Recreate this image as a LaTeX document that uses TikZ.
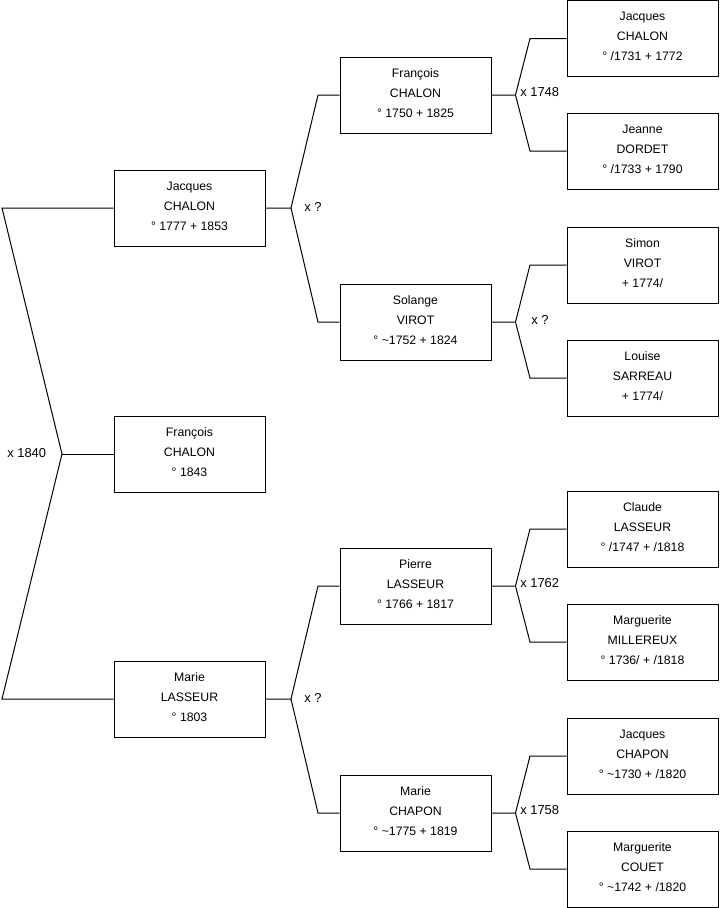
\documentclass[tikz,border=0pt]{standalone}
\usepackage{fontspec}
\setmainfont{Liberation Sans}
\newcommand\pers[3]{%
  \node[person] (#1) at (#2) {};
  \node[ptext] (#1-t) at ([yshift=1.5pt]#1.center) {#3};}
\begin{document}
\begin{tikzpicture}[x=0.75pt,y=-0.75pt,
  person/.style={draw=black,line width=0.75pt,fill=white,minimum width=113.25pt,minimum height=57pt,inner sep=0pt},
  ptext/.style={inner sep=0pt,align=center,font=\fontsize{9.2}{15}\selectfont},
  link/.style={draw=black,line width=0.75pt},
  marr/.style={font=\fontsize{9.7}{11}\selectfont,inner sep=0pt}]
\useasboundingbox (0,0) rectangle (719,908);
% column 1
\pers{p1}{189.5,208}{Jacques\\CHALON\\° 1777 + 1853}
\pers{p0}{189.5,454}{François\\CHALON\\° 1843}
\pers{p2}{189.5,699}{Marie\\LASSEUR\\° 1803}
% column 2
\pers{p4}{415.5,95}{François\\CHALON\\° 1750 + 1825}
\pers{p5}{415.5,322}{Solange\\VIROT\\° \textasciitilde 1752 + 1824}
\pers{p6}{415.5,586}{Pierre\\LASSEUR\\° 1766 + 1817}
\pers{p7}{415.5,813}{Marie\\CHAPON\\° \textasciitilde 1775 + 1819}
% column 3
\pers{p8}{642.5,38.5}{Jacques\\CHALON\\° /1731 + 1772}
\pers{p9}{642.5,151}{Jeanne\\DORDET\\° /1733 + 1790}
\pers{p10}{642.5,265}{Simon\\VIROT\\+ 1774/}
\pers{p11}{642.5,378}{Louise\\SARREAU\\+ 1774/}
\pers{p12}{642.5,529}{Claude\\LASSEUR\\° /1747 + /1818}
\pers{p13}{642.5,642}{Marguerite\\MILLEREUX\\° 1736/ + /1818}
\pers{p14}{642.5,756}{Jacques\\CHAPON\\° \textasciitilde 1730 + /1820}
\pers{p15}{642.5,869}{Marguerite\\COUET\\° \textasciitilde 1742 + /1820}
% junction coordinates
\coordinate (a1) at (2,208);
\coordinate (a0) at (62,454);
\coordinate (a2) at (2,699);
\coordinate (b1) at (291,208);
\coordinate (b1u) at (318,95);
\coordinate (b1d) at (318,322);
\coordinate (b2) at (291,699);
\coordinate (b2u) at (318,586);
\coordinate (b2d) at (318,813);
\foreach \src/\up/\dn/\y in {p4/p8/p9/c4, p5/p10/p11/c5, p6/p12/p13/c6, p7/p14/p15/c7}{
  \coordinate (\y) at ([xshift=18pt]\src.east);
  \draw[link] (\src.east) -- (\y) -- (530,0 |- \up.west) -- (\up.west);
  \draw[link] (\y) -- (530,0 |- \dn.west) -- (\dn.west);
}
% generation 1 links
\draw[link] (p1.west) -- (a1) -- (a0) -- (a2) -- (p2.west);
\draw[link] (a0) -- (p0.west);
\node[marr,anchor=west] (m0) at (7,453) {x 1840};
% generation 2 links
\draw[link] (p1.east) -- (b1) -- (b1u) -- (p4.west);
\draw[link] (b1) -- (b1d) -- (p5.west);
\node[marr,anchor=west] (m1) at (304,207) {x ?};
\draw[link] (p2.east) -- (b2) -- (b2u) -- (p6.west);
\draw[link] (b2) -- (b2d) -- (p7.west);
\node[marr,anchor=west] (m2) at (304,698) {x ?};
% generation 3 labels
\node[marr,anchor=west] (m4) at (520,92) {x 1748};
\node[marr,anchor=west] (m5) at (531,320) {x ?};
\node[marr,anchor=west] (m6) at (520,583) {x 1762};
\node[marr,anchor=west] (m7) at (520,810) {x 1758};
\end{tikzpicture}
\end{document}
